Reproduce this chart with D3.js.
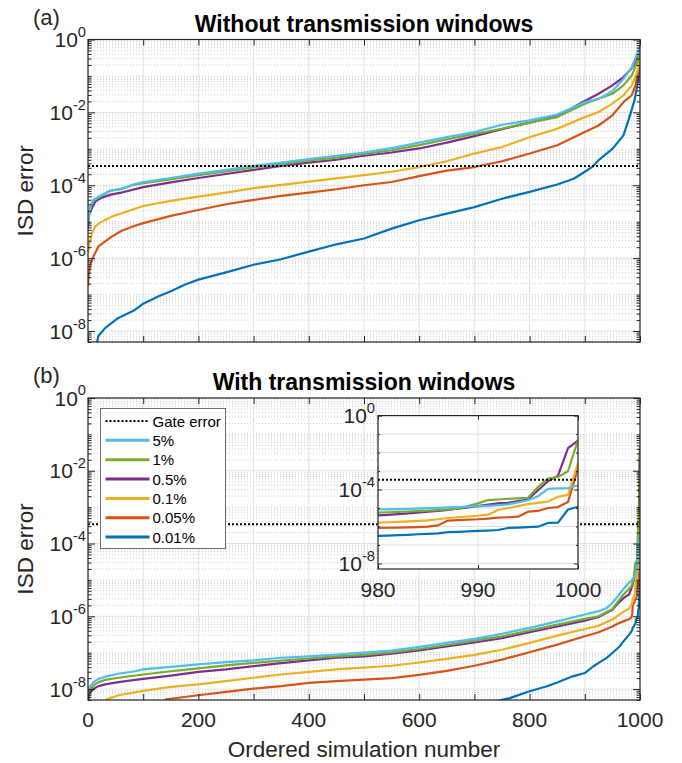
<!DOCTYPE html>
<html lang="en">
<head>
<meta charset="UTF-8">
<style>
  html, body { margin: 0; padding: 0; background: #fff; }
  svg { display: block; font-family: 'Liberation Sans', Arial, Helvetica, sans-serif; }
</style>
</head>
<body>
<svg id="chart" width="682" height="763"></svg>
<script src="https://d3js.org/d3.v7.min.js"></script>
<script>
// ---- data: [ordered simulation number, log10(ISD error)] ----
const seriesNames  = ['5%', '1%', '0.5%', '0.1%', '0.05%', '0.01%'];
const seriesColors = ['#4DBEEE', '#77AC30', '#7E2F8E', '#EDB120', '#D95319', '#0072BD'];
const gateError = 3.4e-4;

// (a) without transmission windows
const noWin5 = [[0,-5.18],[1,-4.86],[5,-4.58],[10,-4.40],[20,-4.31],[40,-4.15],[60,-4.11],[80,-3.99],[100,-3.91],[150,-3.80],[200,-3.68],[250,-3.58],[300,-3.47],[350,-3.38],[400,-3.28],[450,-3.19],[500,-3.10],[550,-2.98],[600,-2.83],[650,-2.68],[700,-2.54],[750,-2.34],[800,-2.22],[850,-2.06],[900,-1.72],[925,-1.63],[950,-1.42],[970,-1.08],[985,-0.76],[995,-0.39],[1000,-0.16]];
const noWin1 = [[0,-5.00],[1,-4.80],[5,-4.55],[10,-4.42],[20,-4.33],[40,-4.15],[60,-4.10],[80,-4.00],[100,-3.94],[150,-3.84],[200,-3.72],[250,-3.62],[300,-3.51],[350,-3.42],[400,-3.32],[450,-3.24],[500,-3.14],[550,-3.04],[600,-2.90],[650,-2.74],[700,-2.59],[750,-2.45],[800,-2.28],[850,-2.13],[900,-1.76],[950,-1.49],[970,-1.26],[985,-0.99],[995,-0.62],[1000,-0.35]];
const noWin05 = [[0,-5.10],[2,-4.81],[7,-4.63],[13,-4.45],[25,-4.34],[43,-4.25],[61,-4.20],[100,-4.05],[150,-3.92],[200,-3.80],[250,-3.69],[300,-3.58],[350,-3.47],[400,-3.38],[450,-3.30],[500,-3.19],[550,-3.10],[600,-2.99],[650,-2.83],[700,-2.65],[750,-2.46],[800,-2.28],[850,-2.10],[900,-1.69],[925,-1.49],[950,-1.26],[970,-1.03],[985,-0.79],[995,-0.52],[1000,-0.38]];
const noWin01 = [[0,-5.86],[3,-5.59],[7,-5.32],[13,-5.13],[25,-5.00],[43,-4.86],[61,-4.77],[100,-4.57],[150,-4.43],[200,-4.31],[250,-4.20],[300,-4.08],[350,-3.99],[400,-3.90],[450,-3.81],[500,-3.72],[550,-3.63],[600,-3.50],[650,-3.34],[700,-3.13],[750,-2.95],[800,-2.68],[850,-2.45],[900,-2.13],[925,-1.99],[950,-1.76],[970,-1.53],[985,-1.26],[995,-0.89],[1000,-0.44]];
const noWin005 = [[0,-6.77],[1,-6.50],[4,-6.20],[10,-5.95],[19,-5.68],[31,-5.54],[43,-5.41],[61,-5.25],[85,-5.11],[100,-5.04],[150,-4.84],[200,-4.68],[250,-4.52],[300,-4.40],[350,-4.29],[400,-4.20],[450,-4.11],[500,-4.00],[550,-3.91],[600,-3.75],[650,-3.60],[700,-3.50],[750,-3.34],[800,-3.13],[850,-2.90],[900,-2.54],[925,-2.36],[950,-2.08],[970,-1.72],[985,-1.53],[992,-1.26],[997,-0.80],[1000,-0.44]];
const noWin001 = [[14,-8.45],[16,-8.33],[19,-8.13],[31,-7.92],[55,-7.64],[85,-7.42],[100,-7.25],[127,-7.05],[150,-6.91],[175,-6.73],[200,-6.59],[250,-6.39],[300,-6.18],[350,-6.03],[400,-5.82],[450,-5.62],[500,-5.46],[550,-5.19],[600,-4.96],[650,-4.78],[700,-4.60],[750,-4.37],[800,-4.18],[850,-3.98],[880,-3.82],[900,-3.63],[915,-3.48],[925,-3.31],[950,-3.00],[970,-2.63],[980,-2.17],[990,-1.67],[995,-1.26],[1000,-0.71]];

// (b) with transmission windows, up to n = 970
const win5 = [[0,-8.05],[1,-7.99],[4,-7.92],[10,-7.81],[19,-7.72],[31,-7.66],[55,-7.58],[85,-7.51],[100,-7.46],[150,-7.39],[200,-7.32],[250,-7.26],[300,-7.21],[350,-7.14],[400,-7.10],[450,-7.05],[500,-7.00],[550,-6.94],[600,-6.84],[650,-6.73],[700,-6.62],[750,-6.48],[800,-6.32],[850,-6.14],[900,-5.95],[925,-5.86],[940,-5.77],[950,-5.63],[960,-5.45],[970,-5.25]];
const win1 = [[0,-8.20],[4,-8.00],[10,-7.90],[19,-7.81],[31,-7.75],[55,-7.69],[100,-7.60],[150,-7.51],[200,-7.43],[250,-7.35],[300,-7.28],[350,-7.22],[400,-7.16],[450,-7.10],[500,-7.06],[550,-6.99],[600,-6.90],[650,-6.79],[700,-6.67],[750,-6.55],[800,-6.39],[850,-6.23],[900,-6.07],[925,-6.00],[950,-5.80],[960,-5.60],[970,-5.40]];
const win05 = [[0,-8.30],[4,-8.10],[10,-7.99],[19,-7.92],[31,-7.87],[55,-7.81],[100,-7.72],[150,-7.63],[200,-7.53],[250,-7.46],[300,-7.37],[350,-7.29],[400,-7.21],[450,-7.14],[500,-7.10],[550,-7.03],[600,-6.94],[650,-6.83],[700,-6.72],[750,-6.60],[800,-6.44],[850,-6.28],[900,-6.12],[925,-6.02],[950,-5.82],[960,-5.65],[970,-5.50]];
const win01 = [[28,-8.40],[34,-8.28],[55,-8.17],[100,-8.05],[150,-7.94],[200,-7.87],[250,-7.78],[300,-7.69],[350,-7.60],[400,-7.53],[450,-7.46],[500,-7.41],[550,-7.36],[600,-7.27],[650,-7.17],[700,-7.06],[750,-6.92],[800,-6.73],[850,-6.53],[900,-6.35],[925,-6.26],[950,-6.09],[960,-5.98],[970,-5.88]];
const win005 = [[130,-8.40],[142,-8.28],[200,-8.17],[250,-8.08],[300,-7.99],[350,-7.92],[400,-7.83],[450,-7.78],[500,-7.74],[550,-7.70],[600,-7.61],[650,-7.50],[700,-7.36],[750,-7.19],[800,-6.99],[850,-6.78],[900,-6.55],[925,-6.44],[950,-6.28],[960,-6.20],[970,-6.14]];
const win001 = [[730,-8.45],[740,-8.33],[764,-8.25],[800,-8.06],[830,-7.93],[850,-7.82],[878,-7.65],[900,-7.56],[915,-7.38],[925,-7.28],[939,-7.15],[950,-7.01],[963,-6.83],[970,-6.69]];

// (b) last 21 simulations (also shown in the inset)
const tailN = [980,981,982,983,984,985,986,987,988,989,990,991,992,993,994,995,996,997,998,999,1000];
const tail5   = [-5.08,-5.07,-5.06,-5.05,-5.03,-5.01,-4.99,-4.97,-4.95,-4.93,-4.91,-4.88,-4.85,-4.80,-4.70,-4.58,-4.36,-3.96,-3.93,-3.92,-3.78];
const tail1   = [-5.25,-5.23,-5.21,-5.19,-5.17,-5.14,-5.11,-5.08,-5.04,-4.90,-4.75,-4.57,-4.54,-4.50,-4.48,-4.45,-3.86,-3.41,-3.32,-3.01,-1.31];
const tail05  = [-5.40,-5.37,-5.33,-5.29,-5.25,-5.20,-5.16,-5.10,-5.04,-4.97,-4.90,-4.82,-4.75,-4.72,-4.63,-4.54,-4.04,-3.55,-3.25,-1.76,-1.35];
const tail01  = [-5.79,-5.77,-5.75,-5.72,-5.70,-5.67,-5.61,-5.54,-5.50,-5.46,-5.42,-5.36,-5.11,-5.00,-4.90,-4.79,-4.72,-4.65,-4.39,-4.29,-2.57];
const tail005 = [-6.08,-6.07,-6.06,-6.05,-6.03,-6.01,-5.94,-5.68,-5.66,-5.63,-5.61,-5.57,-5.52,-5.50,-5.47,-5.20,-5.16,-5.00,-4.95,-4.68,-2.84];
const tail001 = [-6.51,-6.49,-6.47,-6.45,-6.42,-6.40,-6.37,-6.31,-6.29,-6.27,-6.24,-6.22,-6.19,-6.08,-6.06,-6.03,-6.01,-5.81,-5.79,-5.08,-4.93];

const xTicks = [0,100,200,300,400,500,600,700,800,900,1000];
const xTickLabels = [0,200,400,600,800,1000];
const insetXTicks = [980, 990, 1000];

// ---- helpers ----
const toPts = arr => arr.map(d => ({n: d[0], v: Math.pow(10, d[1])}));
const withTail = (arr, tail) => toPts(arr.concat(tailN.map((n, i) => [n, tail[i]])));

const panelA = [noWin5, noWin1, noWin05, noWin01, noWin005, noWin001].map(toPts);
const panelB = [[win5, tail5], [win1, tail1], [win05, tail05], [win01, tail01], [win005, tail005], [win001, tail001]]
    .map(p => withTail(p[0], p[1]));

const svg = d3.select('#chart');
const ink = '#262626';
const left = 88, right = 640;
const yDomain = [5e-9, 1];
const tickFont = 21;

function logTicks(lo, hi, majorEvery){
    const major = [], minor = [];
    for (let e = -9; e <= 0; e++){
        for (let k = 1; k <= 9; k++){
            const v = k * Math.pow(10, e);
            if (v < lo * 0.999 || v > hi * 1.001) continue;
            if (k === 1 && e % majorEvery === 0) major.push(v); else minor.push(v);
        }
    }
    return {major, minor};
}

function powLabel(g, xp, yp, v, size){
    const t = g.append('text')
        .attr('x', xp).attr('y', yp + size * 0.36)
        .attr('text-anchor', 'end')
        .attr('fill', ink)
        .attr('font-size', size);
    t.append('tspan').text('10');
    t.append('tspan').attr('dy', -size * 0.48).attr('font-size', size * 0.7)
        .text(String(Math.round(Math.log10(v))));
}

function drawSeries(g, x, y, data, clipId){
    const line = d3.line().x(d => x(d.n)).y(d => y(d.v));
    const lg = g.append('g').attr('clip-path', `url(#${clipId})`);
    // plot order: 0.01% first, 5% last (on top)
    for (let i = data.length - 1; i >= 0; i--){
        lg.append('path')
            .datum(data[i])
            .attr('d', line)
            .attr('fill', 'none')
            .attr('stroke', seriesColors[i])
            .attr('stroke-width', 2.2)
            .attr('stroke-linejoin', 'round');
    }
    lg.append('line')
        .attr('x1', x.range()[0]).attr('x2', x.range()[1])
        .attr('y1', y(gateError)).attr('y2', y(gateError))
        .attr('stroke', '#000').attr('stroke-width', 2)
        .attr('stroke-dasharray', '2,2');
}

function drawPanel(cfg){
    const {top, bottom, data, title, tag, id} = cfg;
    const x = d3.scaleLinear().domain([0, 1000]).range([left, right]);
    const y = d3.scaleLog().domain(yDomain).range([bottom, top]);
    const g = svg.append('g');
    const lt = logTicks(yDomain[0], yDomain[1], 2);

    svg.append('defs').append('clipPath').attr('id', id)
        .append('rect').attr('x', left).attr('y', top).attr('width', right - left).attr('height', bottom - top);

    // grid
    g.append('g').selectAll('line').data(lt.minor).join('line')
        .attr('x1', left).attr('x2', right)
        .attr('y1', d => y(d)).attr('y2', d => y(d))
        .attr('stroke', '#cfcfcf').attr('stroke-width', 1).attr('stroke-dasharray', '1,2');
    g.append('g').selectAll('line').data(lt.major).join('line')
        .attr('x1', left).attr('x2', right)
        .attr('y1', d => y(d)).attr('y2', d => y(d))
        .attr('stroke', '#e2e2e2').attr('stroke-width', 1);
    g.append('g').selectAll('line').data(xTicks).join('line')
        .attr('x1', d => x(d)).attr('x2', d => x(d))
        .attr('y1', top).attr('y2', bottom)
        .attr('stroke', '#e2e2e2').attr('stroke-width', 1);

    drawSeries(g, x, y, data, id);

    // ticks (inward) on all four sides
    const noDomain = s => s.select('.domain').remove();
    const tickStyle = s => s.selectAll('line').attr('stroke', ink);
    g.append('g').attr('transform', `translate(${left},0)`)
        .call(d3.axisLeft(y).tickValues(lt.major).tickSize(-7).tickFormat('')).call(noDomain).call(tickStyle);
    g.append('g').attr('transform', `translate(${left},0)`)
        .call(d3.axisLeft(y).tickValues(lt.minor).tickSize(-3.5).tickFormat('')).call(noDomain).call(tickStyle);
    g.append('g').attr('transform', `translate(${right},0)`)
        .call(d3.axisRight(y).tickValues(lt.major).tickSize(-7).tickFormat('')).call(noDomain).call(tickStyle);
    g.append('g').attr('transform', `translate(${right},0)`)
        .call(d3.axisRight(y).tickValues(lt.minor).tickSize(-3.5).tickFormat('')).call(noDomain).call(tickStyle);
    g.append('g').attr('transform', `translate(0,${bottom})`)
        .call(d3.axisBottom(x).tickValues(xTicks).tickSize(-6).tickFormat('')).call(noDomain).call(tickStyle);
    g.append('g').attr('transform', `translate(0,${top})`)
        .call(d3.axisTop(x).tickValues(xTicks).tickSize(-6).tickFormat('')).call(noDomain).call(tickStyle);

    g.append('rect')
        .attr('x', left).attr('y', top).attr('width', right - left).attr('height', bottom - top)
        .attr('fill', 'none').attr('stroke', ink).attr('stroke-width', 1.2);

    // labels
    lt.major.forEach(v => powLabel(g, left - 2, y(v), v, tickFont));
    g.append('text')
        .attr('transform', `translate(33,${(top + bottom) / 2}) rotate(-90)`)
        .attr('text-anchor', 'middle').attr('fill', ink).attr('font-size', 22.5)
        .text('ISD error');
    g.append('text')
        .attr('x', (left + right) / 2).attr('y', top - 8)
        .attr('text-anchor', 'middle').attr('font-weight', 'bold').attr('font-size', 23).attr('fill', '#000')
        .text(title);
    g.append('text')
        .attr('x', 33).attr('y', top - 15)
        .attr('fill', ink).attr('font-size', 22)
        .text(tag);

    return {g, x, y};
}

// ---- panel (a) ----
drawPanel({top: 39.5, bottom: 342, data: panelA, title: 'Without transmission windows', tag: '(a)', id: 'clipA'});

// ---- panel (b) ----
const pb = drawPanel({top: 398, bottom: 700, data: panelB, title: 'With transmission windows', tag: '(b)', id: 'clipB'});

// x tick labels and axis title (bottom only)
pb.g.append('g').selectAll('text').data(xTickLabels).join('text')
    .attr('x', d => pb.x(d)).attr('y', 727)
    .attr('text-anchor', 'middle').attr('font-size', tickFont).attr('fill', ink)
    .text(d => d);
pb.g.append('text')
    .attr('x', (left + right) / 2).attr('y', 757)
    .attr('text-anchor', 'middle').attr('font-size', 22.5).attr('fill', ink)
    .text('Ordered simulation number');

// legend
const legend = pb.g.append('g').attr('transform', 'translate(100.5,408.5)');
legend.append('rect').attr('width', 125).attr('height', 140)
    .attr('fill', '#fff').attr('stroke', '#6e6e6e').attr('stroke-width', 1);
const legendItems = [{name: 'Gate error', color: '#000', dash: '2,2', w: 2}]
    .concat(seriesNames.map((s, i) => ({name: s, color: seriesColors[i], dash: null, w: 3})));
const row = legend.selectAll('g.item').data(legendItems).join('g')
    .attr('class', 'item')
    .attr('transform', (d, i) => `translate(0,${12.5 + i * 19.35})`);
row.append('line')
    .attr('x1', 5).attr('x2', 49)
    .attr('stroke', d => d.color).attr('stroke-width', d => d.w)
    .attr('stroke-dasharray', d => d.dash);
row.append('text')
    .attr('x', 52).attr('y', 5.5)
    .attr('font-size', 15).attr('fill', '#000')
    .text(d => d.name);

// ---- inset (last 21 simulations of panel b) ----
const inset = {left: 378, right: 578, top: 415.6, bottom: 569};
const ix = d3.scaleLinear().domain([980, 1000]).range([inset.left, inset.right]);
const iy = d3.scaleLog().domain(yDomain).range([inset.bottom, inset.top]);
const ig = svg.append('g');
const insetData = panelB.map(s => s.filter(d => d.n >= 980));
const decades = [1e-8, 1e-7, 1e-6, 1e-5, 1e-4, 1e-3, 1e-2, 1e-1, 1];

svg.append('defs').append('clipPath').attr('id', 'clipInset')
    .append('rect').attr('x', inset.left).attr('y', inset.top)
    .attr('width', inset.right - inset.left).attr('height', inset.bottom - inset.top);

ig.append('rect')
    .attr('x', inset.left).attr('y', inset.top)
    .attr('width', inset.right - inset.left).attr('height', inset.bottom - inset.top)
    .attr('fill', '#fff');
ig.append('g').selectAll('line').data(decades).join('line')
    .attr('x1', inset.left).attr('x2', inset.right)
    .attr('y1', d => iy(d)).attr('y2', d => iy(d))
    .attr('stroke', '#e0e0e0').attr('stroke-width', 1);
ig.append('g').selectAll('line').data(insetXTicks).join('line')
    .attr('x1', d => ix(d)).attr('x2', d => ix(d))
    .attr('y1', inset.top).attr('y2', inset.bottom)
    .attr('stroke', '#e0e0e0').attr('stroke-width', 1);

drawSeries(ig, ix, iy, insetData, 'clipInset');

const iMajor = [1e-8, 1e-4, 1];
const iMinor = decades.filter(d => iMajor.indexOf(d) < 0);
const noDom = s => s.select('.domain').remove();
const tStyle = s => s.selectAll('line').attr('stroke', ink);
ig.append('g').attr('transform', `translate(${inset.left},0)`)
    .call(d3.axisLeft(iy).tickValues(iMajor).tickSize(-4).tickFormat('')).call(noDom).call(tStyle);
ig.append('g').attr('transform', `translate(${inset.left},0)`)
    .call(d3.axisLeft(iy).tickValues(iMinor).tickSize(-2).tickFormat('')).call(noDom).call(tStyle);
ig.append('g').attr('transform', `translate(${inset.right},0)`)
    .call(d3.axisRight(iy).tickValues(iMajor).tickSize(-4).tickFormat('')).call(noDom).call(tStyle);
ig.append('g').attr('transform', `translate(${inset.right},0)`)
    .call(d3.axisRight(iy).tickValues(iMinor).tickSize(-2).tickFormat('')).call(noDom).call(tStyle);
ig.append('g').attr('transform', `translate(0,${inset.bottom})`)
    .call(d3.axisBottom(ix).tickValues(insetXTicks).tickSize(-4).tickFormat('')).call(noDom).call(tStyle);
ig.append('g').attr('transform', `translate(0,${inset.top})`)
    .call(d3.axisTop(ix).tickValues(insetXTicks).tickSize(-4).tickFormat('')).call(noDom).call(tStyle);
ig.append('rect')
    .attr('x', inset.left).attr('y', inset.top)
    .attr('width', inset.right - inset.left).attr('height', inset.bottom - inset.top)
    .attr('fill', 'none').attr('stroke', ink).attr('stroke-width', 1.2);

iMajor.forEach(v => powLabel(ig, inset.left - 3, iy(v), v, tickFont));
ig.append('g').selectAll('text').data(insetXTicks).join('text')
    .attr('x', d => ix(d)).attr('y', 597)
    .attr('text-anchor', 'middle').attr('font-size', tickFont).attr('fill', ink)
    .text(d => d);
</script>
</body>
</html>
